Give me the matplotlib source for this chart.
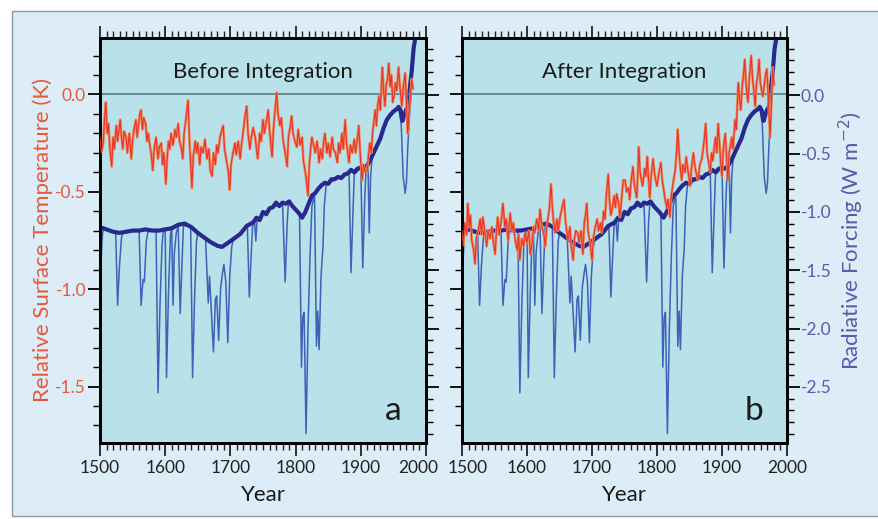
import matplotlib
matplotlib.use("Agg")
import matplotlib.pyplot as plt
from matplotlib.patches import Rectangle
from matplotlib.ticker import MultipleLocator
from matplotlib.transforms import ScaledTranslation

plt.rcParams['font.family'] = ['Lato', 'DejaVu Sans']
plt.rcParams['axes.unicode_minus'] = False

# ---- data ----
# smoothed radiative forcing (thick line), W m-2
force_smooth_yr = [1500, 1510, 1520, 1530, 1540, 1550, 1560, 1570, 1580, 1590, 1600, 1610, 1620, 1630,
                   1640, 1650, 1660, 1670, 1680, 1687, 1695, 1705, 1715, 1725, 1735, 1740, 1745, 1750,
                   1755, 1760, 1765, 1770, 1775, 1780, 1785, 1790, 1795, 1800, 1805, 1810, 1815, 1820,
                   1825, 1830, 1835, 1840, 1845, 1850, 1855, 1860, 1865, 1870, 1875, 1880, 1885, 1890,
                   1895, 1900, 1905, 1910, 1915, 1920, 1925, 1930, 1935, 1940, 1945, 1950, 1955, 1958,
                   1961, 1964, 1966, 1969, 1972, 1975, 1978, 1981, 1983]
force_smooth = [-1.13, -1.15, -1.17, -1.18, -1.17, -1.16, -1.16, -1.15, -1.16, -1.16, -1.15, -1.14, -1.11, -1.10,
                -1.13, -1.18, -1.22, -1.26, -1.29, -1.30, -1.27, -1.23, -1.19, -1.12, -1.09, -1.05, -1.07, -1.00,
                -1.02, -0.97, -0.96, -0.92, -0.95, -0.92, -0.93, -0.91, -0.95, -0.98, -1.01, -1.05, -1.00, -0.93,
                -0.86, -0.84, -0.80, -0.77, -0.75, -0.76, -0.72, -0.72, -0.70, -0.71, -0.68, -0.67, -0.64, -0.66,
                -0.63, -0.62, -0.63, -0.60, -0.55, -0.49, -0.43, -0.37, -0.28, -0.21, -0.17, -0.14, -0.12, -0.10,
                -0.13, -0.22, -0.18, -0.13, -0.10, 0.05, 0.20, 0.40, 0.47]

# annual forcing incl. volcanic spikes (thin line)
force_yr = [1500, 1502, 1504, 1506, 1524, 1527, 1530, 1533, 1535, 1560, 1563, 1566, 1568, 1571, 1574,
            1586, 1589, 1592, 1595, 1597, 1600, 1602, 1605, 1608, 1610, 1612, 1614, 1617, 1620, 1623,
            1626, 1628, 1639, 1642, 1645, 1648, 1650, 1662, 1666, 1668, 1674, 1677, 1679, 1682, 1685,
            1688, 1690, 1693, 1696, 1699, 1702, 1704, 1726, 1729, 1732, 1734, 1737, 1739, 1741, 1760,
            1780, 1784, 1787, 1789, 1806, 1809, 1811, 1813, 1816, 1819, 1822, 1825, 1829, 1832, 1834,
            1836, 1839, 1842, 1844, 1847, 1882, 1885, 1888, 1890, 1900, 1903, 1906, 1908, 1911, 1913,
            1915, 1917, 1930, 1940, 1950, 1958, 1962, 1965, 1968, 1970, 1972, 1975, 1977, 1979, 1981, 1983]
force_annual = [-1.13, -1.38, -1.18, -1.14, -1.17, -1.80, -1.45, -1.22, -1.18, -1.16, -1.80, -1.58, -1.60, -1.25, -1.16,
                -1.16, -2.55, -1.80, -1.30, -1.16, -1.15, -2.42, -1.70, -1.20, -1.14, -1.80, -1.35, -1.18, -1.12, -1.87,
                -1.40, -1.12, -1.12, -2.42, -1.75, -1.25, -1.18, -1.24, -1.78, -1.55, -2.20, -1.75, -1.72, -2.10, -1.65,
                -1.52, -1.45, -1.60, -2.12, -1.55, -1.30, -1.25, -1.12, -1.73, -1.35, -1.12, -1.08, -1.25, -1.06, -0.97,
                -0.93, -1.60, -1.10, -0.92, -1.02, -2.33, -1.90, -1.86, -2.90, -2.00, -1.40, -0.95, -0.85, -2.15, -1.85,
                -2.18, -1.55, -1.30, -0.95, -0.76, -0.67, -1.52, -1.00, -0.68, -0.62, -1.48, -0.90, -0.64, -0.58, -1.18,
                -0.70, -0.55, -0.37, -0.21, -0.14, -0.10, -0.25, -0.70, -0.84, -0.75, -0.45, -0.15, 0.00, 0.20, 0.38, 0.47]

# temperature before integration (panel a), K
temp_a_yr = [1500, 1502, 1505, 1507, 1509, 1511, 1513, 1515, 1518, 1520, 1522, 1525, 1527, 1529, 1531, 1533,
             1535, 1537, 1540, 1542, 1545, 1548, 1550, 1552, 1555, 1557, 1559, 1561, 1563, 1565, 1567, 1570,
             1572, 1574, 1577, 1579, 1581, 1583, 1586, 1589, 1591, 1594, 1596, 1598, 1601, 1603, 1605, 1607,
             1609, 1612, 1615, 1617, 1620, 1622, 1625, 1627, 1629, 1632, 1635, 1637, 1639, 1641, 1643, 1646,
             1648, 1650, 1653, 1655, 1658, 1661, 1664, 1667, 1669, 1672, 1674, 1677, 1679, 1681, 1684, 1687,
             1689, 1691, 1694, 1697, 1699, 1701, 1704, 1707, 1709, 1712, 1715, 1717, 1720, 1722, 1725, 1727,
             1730, 1732, 1735, 1738, 1740, 1742, 1745, 1747, 1750, 1752, 1755, 1758, 1760, 1762, 1764, 1766,
             1768, 1771, 1773, 1776, 1778, 1781, 1784, 1787, 1789, 1792, 1794, 1796, 1799, 1802, 1804, 1807,
             1810, 1812, 1815, 1817, 1819, 1821, 1823, 1825, 1827, 1830, 1833, 1836, 1838, 1841, 1843, 1845,
             1848, 1850, 1853, 1856, 1858, 1861, 1864, 1866, 1868, 1871, 1873, 1876, 1878, 1880, 1882, 1884,
             1887, 1890, 1892, 1895, 1897, 1899, 1902, 1904, 1907, 1910, 1912, 1914, 1916, 1918, 1920, 1922,
             1924, 1926, 1928, 1930, 1933, 1935, 1937, 1939, 1941, 1943, 1945, 1947, 1949, 1951, 1953, 1955,
             1958, 1960, 1963, 1965, 1968, 1970, 1972, 1974, 1976, 1978, 1980]
temp_a = [-0.22, -0.30, -0.25, -0.12, -0.04, -0.20, -0.15, -0.27, -0.37, -0.22, -0.28, -0.16, -0.24, -0.18, -0.13, -0.22,
          -0.28, -0.19, -0.22, -0.30, -0.20, -0.33, -0.24, -0.18, -0.13, -0.22, -0.16, -0.10, -0.08, -0.18, -0.12, -0.15,
          -0.24, -0.20, -0.27, -0.32, -0.39, -0.28, -0.22, -0.33, -0.27, -0.25, -0.36, -0.30, -0.46, -0.33, -0.24, -0.28,
          -0.20, -0.26, -0.18, -0.22, -0.15, -0.24, -0.28, -0.33, -0.20, -0.12, -0.03, -0.22, -0.35, -0.48, -0.32, -0.24,
          -0.30, -0.25, -0.36, -0.27, -0.30, -0.23, -0.33, -0.28, -0.39, -0.42, -0.30, -0.36, -0.26, -0.30, -0.22, -0.18,
          -0.16, -0.28, -0.34, -0.40, -0.49, -0.36, -0.30, -0.25, -0.31, -0.24, -0.33, -0.26, -0.18, -0.12, -0.06, -0.20,
          -0.28, -0.22, -0.17, -0.22, -0.28, -0.33, -0.20, -0.24, -0.13, -0.20, -0.14, -0.08, -0.18, -0.26, -0.32, -0.18,
          -0.10, 0.01, -0.10, -0.16, -0.12, -0.24, -0.30, -0.37, -0.22, -0.16, -0.11, -0.20, -0.24, -0.27, -0.18, -0.26,
          -0.22, -0.34, -0.40, -0.46, -0.52, -0.36, -0.28, -0.22, -0.25, -0.30, -0.24, -0.35, -0.28, -0.33, -0.24, -0.20,
          -0.30, -0.25, -0.32, -0.22, -0.28, -0.30, -0.35, -0.25, -0.30, -0.20, -0.28, -0.13, -0.24, -0.30, -0.35, -0.26,
          -0.30, -0.23, -0.30, -0.22, -0.16, -0.30, -0.44, -0.36, -0.40, -0.39, -0.30, -0.25, -0.30, -0.20, -0.14, -0.08,
          -0.16, -0.05, -0.01, -0.08, 0.14, 0.02, -0.06, 0.05, 0.08, 0.16, 0.04, 0.10, -0.04, -0.01, 0.06, 0.02,
          0.14, 0.04, -0.06, 0.03, 0.11, -0.05, -0.20, -0.08, -0.02, 0.08, 0.03]

# temperature after integration (panel b), K
temp_b_yr = [1500, 1502, 1504, 1507, 1509, 1511, 1513, 1515, 1518, 1520, 1522, 1525, 1528, 1530, 1532, 1535,
             1538, 1540, 1543, 1546, 1548, 1551, 1553, 1555, 1557, 1560, 1563, 1566, 1568, 1571, 1574, 1577,
             1579, 1582, 1585, 1587, 1589, 1592, 1595, 1597, 1600, 1603, 1605, 1608, 1610, 1612, 1615, 1618,
             1620, 1623, 1626, 1628, 1631, 1634, 1637, 1639, 1641, 1643, 1646, 1648, 1651, 1654, 1657, 1659,
             1661, 1663, 1666, 1668, 1671, 1673, 1675, 1678, 1680, 1683, 1686, 1688, 1690, 1692, 1694, 1697,
             1700, 1702, 1705, 1708, 1710, 1713, 1715, 1718, 1720, 1722, 1725, 1727, 1729, 1731, 1734, 1736,
             1738, 1741, 1743, 1746, 1748, 1751, 1753, 1756, 1758, 1760, 1763, 1765, 1767, 1769, 1772, 1774,
             1776, 1778, 1781, 1783, 1785, 1787, 1789, 1791, 1794, 1796, 1798, 1800, 1803, 1806, 1808, 1810,
             1812, 1815, 1817, 1820, 1822, 1825, 1828, 1830, 1832, 1834, 1836, 1838, 1840, 1843, 1845, 1848,
             1851, 1853, 1856, 1858, 1860, 1863, 1866, 1869, 1871, 1873, 1875, 1877, 1880, 1882, 1884, 1886,
             1888, 1890, 1892, 1894, 1896, 1898, 1900, 1902, 1905, 1907, 1909, 1911, 1913, 1915, 1917, 1920,
             1922, 1925, 1927, 1929, 1931, 1933, 1935, 1937, 1940, 1942, 1945, 1947, 1949, 1951, 1953, 1955,
             1957, 1959, 1961, 1963, 1965, 1967, 1969, 1971, 1974, 1976, 1978, 1980]
temp_b = [-0.70, -0.78, -0.66, -0.72, -0.56, -0.68, -0.62, -0.75, -0.80, -0.87, -0.74, -0.70, -0.64, -0.72, -0.63, -0.70,
          -0.78, -0.70, -0.74, -0.68, -0.75, -0.82, -0.70, -0.63, -0.72, -0.66, -0.56, -0.68, -0.64, -0.75, -0.61, -0.70,
          -0.66, -0.75, -0.80, -0.72, -0.85, -0.74, -0.78, -0.71, -0.76, -0.70, -0.82, -0.76, -0.68, -0.71, -0.64, -0.70,
          -0.59, -0.68, -0.72, -0.78, -0.66, -0.60, -0.46, -0.58, -0.66, -0.71, -0.64, -0.70, -0.63, -0.58, -0.54, -0.64,
          -0.70, -0.75, -0.68, -0.78, -0.85, -0.74, -0.70, -0.71, -0.76, -0.70, -0.82, -0.66, -0.62, -0.56, -0.70, -0.76,
          -0.85, -0.74, -0.68, -0.64, -0.70, -0.66, -0.71, -0.60, -0.64, -0.52, -0.41, -0.55, -0.62, -0.59, -0.52, -0.58,
          -0.51, -0.56, -0.63, -0.52, -0.44, -0.44, -0.50, -0.48, -0.54, -0.45, -0.37, -0.46, -0.50, -0.53, -0.27, -0.40,
          -0.44, -0.47, -0.38, -0.42, -0.32, -0.44, -0.53, -0.42, -0.33, -0.40, -0.44, -0.47, -0.40, -0.35, -0.44, -0.48,
          -0.53, -0.58, -0.54, -0.63, -0.52, -0.45, -0.39, -0.30, -0.18, -0.30, -0.38, -0.44, -0.36, -0.40, -0.32, -0.40,
          -0.47, -0.38, -0.30, -0.36, -0.40, -0.44, -0.36, -0.33, -0.28, -0.22, -0.15, -0.30, -0.36, -0.40, -0.30, -0.34,
          -0.27, -0.22, -0.30, -0.15, -0.24, -0.35, -0.42, -0.28, -0.20, -0.32, -0.44, -0.30, -0.26, -0.22, -0.28, -0.13,
          -0.18, 0.06, -0.02, -0.08, 0.04, 0.10, 0.18, 0.05, -0.04, 0.08, 0.20, 0.08, 0.02, -0.06, 0.05, 0.10,
          0.18, 0.06, 0.02, -0.01, 0.05, 0.10, 0.13, 0.00, -0.22, -0.05, 0.14, 0.05]

year_ticks = [1500, 1600, 1700, 1800, 1900, 2000]

# colours
RED = '#e8342a'
ORANGE = '#ef8a5e'
TEMP_TXT = '#e8583a'
FORCE_TXT = '#5a5aa8'
THIN = '#3d62b6'
THICK = '#28288e'
PANEL = '#b9e1e9'
OUTER = '#dcedf7'

fig = plt.figure(figsize=(8.79, 5.19), dpi=100)
fig.patch.set_facecolor('white')
fig.patches.append(Rectangle((12 / 879, 3 / 519), 1.0, 505 / 519, transform=fig.transFigure,
                             facecolor=OUTER, edgecolor='#8d9ba4', lw=1, zorder=-1))


def panel(rect, temp_yr, temp, title, letter, left_labels):
    ax = fig.add_axes(rect)
    ax2 = ax.twinx()

    ax2.plot(force_yr, force_annual, color=THIN, lw=1.1, zorder=2)
    ax2.plot(force_smooth_yr, force_smooth, color=THICK, lw=3.0, zorder=3)
    ax.plot(temp_yr, temp, color=ORANGE, lw=1.9, zorder=2)
    ax.plot(temp_yr, temp, color=RED, lw=0.8, zorder=3)
    ax.axhline(0, color='#4f6f76', lw=1.1, zorder=1)
    # temperature on top of the forcing lines
    ax.set_zorder(ax2.get_zorder() + 1)
    ax.patch.set_visible(False)
    ax2.patch.set_visible(True)
    ax2.patch.set_facecolor(PANEL)

    ax.set_xlim(1500, 2000)
    ax.set_ylim(-1.79, 0.29)
    ax2.set_ylim(-2.98, 0.49)
    ax.set_xticks(year_ticks)
    ax.xaxis.set_minor_locator(MultipleLocator(10))
    ax.yaxis.set_major_locator(MultipleLocator(0.5))
    ax.yaxis.set_minor_locator(MultipleLocator(0.1))
    ax2.yaxis.set_major_locator(MultipleLocator(0.5))
    ax2.yaxis.set_minor_locator(MultipleLocator(0.1))
    ax.yaxis.set_major_formatter(lambda v, p: '%.1f' % v)
    ax2.yaxis.set_major_formatter(lambda v, p: '%.1f' % v)

    ax.tick_params(axis='x', which='both', top=True, direction='out', labelsize=12.5, colors='#222222', pad=3)
    for a in (ax, ax2):
        a.tick_params(which='major', direction='out', length=9, width=1.3)
        a.tick_params(which='minor', direction='out', length=5, width=1.0)
    ax.tick_params(axis='y', labelsize=12.5, labelcolor=TEMP_TXT, labelleft=left_labels, pad=1)
    ax2.tick_params(axis='y', labelsize=12.5, labelcolor=FORCE_TXT, labelright=not left_labels, pad=1)
    for a in (ax, ax2):
        for s in a.spines.values():
            s.set_linewidth(2)

    ax.set_xlabel('Year', fontsize=16, labelpad=7, color='#1a1a1a')
    ax.text(0.5, 0.915, title, transform=ax.transAxes, ha='center', va='center', fontsize=16, color='#1a1a1a')
    ax.text(0.90, 0.08, letter, transform=ax.transAxes, ha='center', va='center', fontsize=24, color='#1a1a1a')
    return ax, ax2


ax_a, ax_a2 = panel([100 / 879, 76 / 519, 326 / 879, 405 / 519], temp_a_yr, temp_a,
                    'Before Integration', 'a', True)
ax_b, ax_b2 = panel([462 / 879, 76 / 519, 325 / 879, 405 / 519], temp_b_yr, temp_b,
                    'After Integration', 'b', False)

ax_a.set_ylabel('Relative Surface Temperature (K)', fontsize=16, color=TEMP_TXT, labelpad=2)
ax_b2.set_ylabel('Radiative Forcing (W m$^{-2}$)', fontsize=16, color=FORCE_TXT, labelpad=4)

# the two inner year labels are nudged apart, as in the original
lab = ax_a.get_xticklabels()[-1]
lab.set_transform(lab.get_transform() + ScaledTranslation(-8 / 100, 0, fig.dpi_scale_trans))
lab = ax_b.get_xticklabels()[0]
lab.set_transform(lab.get_transform() + ScaledTranslation(6 / 100, 0, fig.dpi_scale_trans))

fig.savefig('out.png', dpi=100)
